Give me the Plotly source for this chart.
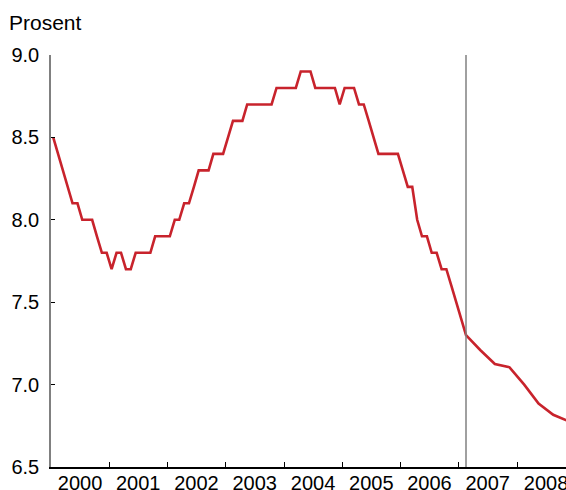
"""Unemployment-style rate chart, monthly history with quarterly path after Feb 2007."""
import plotly.graph_objects as go

# Monthly observations, Jan 2000 - Feb 2007 (per cent)
years = [2000, 2001, 2002, 2003, 2004, 2005, 2006, 2007]
monthly = {
    2000: [8.5, 8.4, 8.3, 8.2, 8.1, 8.1, 8.0, 8.0, 8.0, 7.9, 7.8, 7.8],
    2001: [7.7, 7.8, 7.8, 7.7, 7.7, 7.8, 7.8, 7.8, 7.8, 7.9, 7.9, 7.9],
    2002: [7.9, 8.0, 8.0, 8.1, 8.1, 8.2, 8.3, 8.3, 8.3, 8.4, 8.4, 8.4],
    2003: [8.5, 8.6, 8.6, 8.6, 8.7, 8.7, 8.7, 8.7, 8.7, 8.7, 8.8, 8.8],
    2004: [8.8, 8.8, 8.8, 8.9, 8.9, 8.9, 8.8, 8.8, 8.8, 8.8, 8.8, 8.7],
    2005: [8.8, 8.8, 8.8, 8.7, 8.7, 8.6, 8.5, 8.4, 8.4, 8.4, 8.4, 8.4],
    2006: [8.3, 8.2, 8.2, 8.0, 7.9, 7.9, 7.8, 7.8, 7.7, 7.7, 7.6, 7.5],
    2007: [7.4, 7.3],
}

# Quarterly path after the cut (mid-quarter dates)
path_dates = ['2007-05-15', '2007-08-15', '2007-11-15', '2008-02-15',
              '2008-05-15', '2008-08-15', '2008-11-15']
path_values = [7.21, 7.125, 7.105, 7.0, 6.885, 6.817, 6.78]

cut_date = '2007-02-15'
y_ticks = [6.5, 7.0, 7.5, 8.0, 8.5, 9.0]
year_labels = ['2000', '2001', '2002', '2003', '2004', '2005', '2006', '2007', '2008']

dates, values = [], []
for yr in years:
    for i, v in enumerate(monthly[yr]):
        dates.append(f'{yr}-{i + 1:02d}-15')
        values.append(v)
dates += path_dates
values += path_values

font = 'Arial, Liberation Sans, sans-serif'

fig = go.Figure()
fig.add_trace(go.Scatter(x=dates, y=values, mode='lines',
                         line={'color': '#c8232c', 'width': 2.6},
                         hoverinfo='skip', showlegend=False))

fig.add_shape(type='line', x0=cut_date, x1=cut_date, y0=0, y1=1,
              xref='x', yref='paper',
              line={'color': '#808080', 'width': 1.5})

fig.add_annotation(text='Prosent', xref='paper', yref='paper',
                   x=-44 / 515, y=1.047, xanchor='left', yanchor='bottom',
                   showarrow=False, font={'family': font, 'size': 21, 'color': 'black'})

fig.update_layout(
    width=566, height=490,
    margin={'l': 51, 'r': 0, 't': 55, 'b': 23},
    paper_bgcolor='white', plot_bgcolor='white',
    font={'family': font, 'size': 20, 'color': 'black'},
    showlegend=False,
)
# labels sit mid-year, tick marks at the year boundaries (minor ticks)
fig.update_xaxes(type='date', range=['2000-01-01', '2008-11-03'],
                 tickvals=[f'{y}-07-01' for y in year_labels], ticktext=year_labels,
                 ticks='inside', ticklen=5, tickcolor='rgba(0,0,0,0)',
                 ticklabelstandoff=-3, ticklabeloverflow='allow',
                 minor={'ticks': 'inside', 'ticklen': 5, 'tickcolor': 'black',
                        'tickwidth': 1, 'dtick': 'M12', 'tick0': '2000-01-01',
                        'showgrid': False},
                 showline=True, linecolor='black', linewidth=1.5,
                 automargin=False, showgrid=False, zeroline=False)
fig.update_yaxes(range=[6.5, 9.0], tickvals=y_ticks, tickformat='.1f',
                 ticks='inside', ticklen=4, tickcolor='black', tickwidth=1,
                 showline=True, linecolor='#808080', linewidth=1.5,
                 ticklabelstandoff=6, automargin=False,
                 showgrid=False, zeroline=False)

# drop the default 8px body margin so the figure fills the window exactly
fig.write_html('out.html', config={'displayModeBar': False},
               post_script="document.body.style.margin='0';"
                           "document.body.style.overflow='hidden';")
